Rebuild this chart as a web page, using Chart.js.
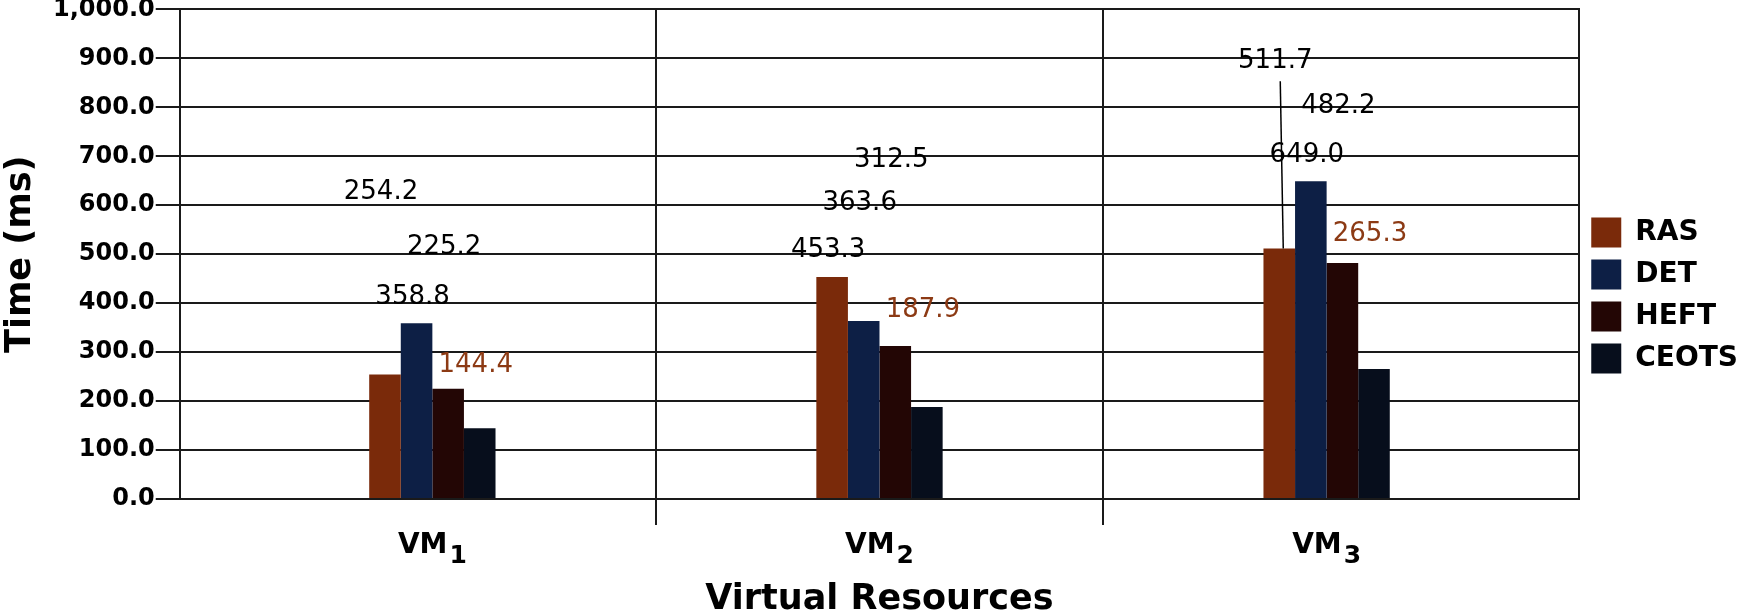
<!DOCTYPE html>
<html><head><meta charset="utf-8">
<script src="https://cdn.jsdelivr.net/npm/chart.js@4.4.1/dist/chart.umd.min.js"></script>
<style>html,body{margin:0;padding:0;background:#fff;overflow:hidden}</style>
</head><body>
<canvas id="c" width="1748" height="614"></canvas>
<script>
// ---- data ----
const categories = ['VM1', 'VM2', 'VM3'];
const seriesNames = ['RAS', 'DET', 'HEFT', 'CEOTS'];
const rasValues = [254.2, 453.3, 511.7];
const detValues = [358.8, 363.6, 649.0];
const heftValues = [225.2, 312.5, 482.2];
const ceotsValues = [144.4, 187.9, 265.3];
const yTickValues = [0, 100, 200, 300, 400, 500, 600, 700, 800, 900, 1000];
// heights (axis units) at which the printed value labels sit in the original
const rasLabelAt = [627, 509, 894];
const detLabelAt = [413, 605, 703];
const heftLabelAt = [515, 692, 802];
const ceotsLabelAt = [273, 385, 540];

const seriesValues = [rasValues, detValues, heftValues, ceotsValues];
const labelAt = [rasLabelAt, detLabelAt, heftLabelAt, ceotsLabelAt];
const colors = ['#7a2a0a', '#0d1f45', '#230605', '#070e1c'];
const labelColors = ['#000', '#000', '#000', '#8c3a14'];
const FONT = '"DejaVu Sans", Verdana, sans-serif';

const valueLabels = {
  id: 'valueLabels',
  afterDatasetsDraw(chart) {
    const ctx = chart.ctx, ys = chart.scales.y;
    ctx.save();
    ctx.font = '26px ' + FONT;
    ctx.textAlign = 'center';
    ctx.textBaseline = 'middle';
    chart.data.datasets.forEach((ds, di) => {
      const meta = chart.getDatasetMeta(di);
      meta.data.forEach((bar, i) => {
        const ly = ys.getPixelForValue(labelAt[di][i]);
        ctx.fillStyle = labelColors[di];
        ctx.fillText(seriesValues[di][i].toFixed(1), bar.x - 4, ly);
        // leader line where the label sits far above its bar
        if (di === 0 && i === 2) {
          ctx.strokeStyle = '#000';
          ctx.lineWidth = 1.5;
          ctx.beginPath();
          ctx.moveTo(bar.x + 1, ly + 20);
          ctx.lineTo(bar.x + 4, bar.y);
          ctx.stroke();
        }
      });
    });
    ctx.restore();
  }
};

const categoryLabels = {
  id: 'categoryLabels',
  afterDraw(chart) {
    const ctx = chart.ctx, xs = chart.scales.x;
    const base = chart.chartArea.bottom + 54;
    ctx.save();
    ctx.fillStyle = '#000';
    ctx.textBaseline = 'alphabetic';
    ctx.textAlign = 'left';
    categories.forEach((c, i) => {
      const m = c.match(/^(\D+)(\d+)$/);
      const main = m ? m[1] : c, sub = m ? m[2] : '';
      ctx.font = 'bold 28px ' + FONT;
      const w1 = ctx.measureText(main).width;
      ctx.font = 'bold 25px ' + FONT;
      const w2 = ctx.measureText(sub).width;
      const cx = xs.getPixelForValue(i);
      const x0 = cx - (w1 + 2 + w2) / 2;
      ctx.font = 'bold 28px ' + FONT;
      ctx.fillText(main, x0, base);
      ctx.font = 'bold 25px ' + FONT;
      ctx.fillText(sub, x0 + w1 + 2, base + 10);
    });
    ctx.restore();
  }
};

new Chart(document.getElementById('c'), {
  type: 'bar',
  data: {
    datasets: seriesNames.map((name, di) => ({
      label: name,
      data: seriesValues[di].map((v, i) => ({ x: i, y: v })),
      backgroundColor: colors[di],
      borderWidth: 0,
      xAxisID: 'x',
      yAxisID: 'y'
    }))
  },
  options: {
    responsive: false,
    animation: false,
    devicePixelRatio: 1,
    categoryPercentage: 0.2825,
    barPercentage: 1.0,
    layout: { padding: { left: 0, right: 0, top: 0, bottom: 0 } },
    plugins: {
      tooltip: { enabled: false },
      legend: {
        position: 'right',
        fullSize: false,
        align: 'center',
        title: { display: true, text: '', font: { size: 12 }, padding: { top: 68, bottom: 0 } },
        labels: {
          boxWidth: 30, boxHeight: 30, padding: 12, color: '#000',
          font: { family: FONT, size: 28, weight: 'bold' }
        }
      }
    },
    scales: {
      x: {
        type: 'linear', axis: 'x', position: 'bottom', weight: 1,
        min: -0.565, max: 2.565, bounds: 'data', offset: false,
        afterBuildTicks: s => { s.ticks = categories.map((_, i) => ({ value: i })); },
        ticks: { display: false },
        grid: { display: false, drawTicks: false, offset: false },
        border: { display: false },
        title: {
          display: true, text: 'Virtual Resources', color: '#000',
          font: { family: FONT, size: 35, weight: 'bold', lineHeight: 0.8 },
          padding: { top: 61, bottom: 0 }
        }
      },
      xd: {
        type: 'linear', axis: 'x', position: 'bottom', weight: 0,
        min: -0.565, max: 2.565, bounds: 'data', offset: false,
        afterBuildTicks: s => { s.ticks = categories.slice(1).map((_, i) => ({ value: i + 0.5 })); },
        ticks: { display: false },
        grid: { display: true, drawOnChartArea: true, drawTicks: true, tickLength: 26, offset: false, color: '#1a1a1a', lineWidth: 2 },
        border: { display: false }
      },
      y: {
        type: 'linear', position: 'left', min: 0, max: 1000,
        afterBuildTicks: s => { s.ticks = yTickValues.map(v => ({ value: v })); },
        ticks: {
          color: '#000', padding: 1,
          font: { family: FONT, size: 24, weight: 'bold', lineHeight: 0.7 },
          callback: v => Number(v).toLocaleString('en-US', { minimumFractionDigits: 1, maximumFractionDigits: 1 })
        },
        grid: { color: '#1a1a1a', lineWidth: 2, tickLength: 24, drawTicks: true },
        border: { display: true, color: '#1a1a1a', width: 2 },
        title: {
          display: true, text: 'Time (ms)', color: '#000',
          font: { family: FONT, size: 35, weight: 'bold', lineHeight: 1 },
          padding: { top: 3, bottom: 14 }
        }
      },
      yR: {
        type: 'linear', axis: 'y', position: 'right', min: 0, max: 1000,
        ticks: { display: false },
        grid: { drawOnChartArea: false, drawTicks: false },
        border: { display: true, color: '#1a1a1a', width: 2 }
      }
    }
  },
  plugins: [valueLabels, categoryLabels]
});
</script>
</body></html>
